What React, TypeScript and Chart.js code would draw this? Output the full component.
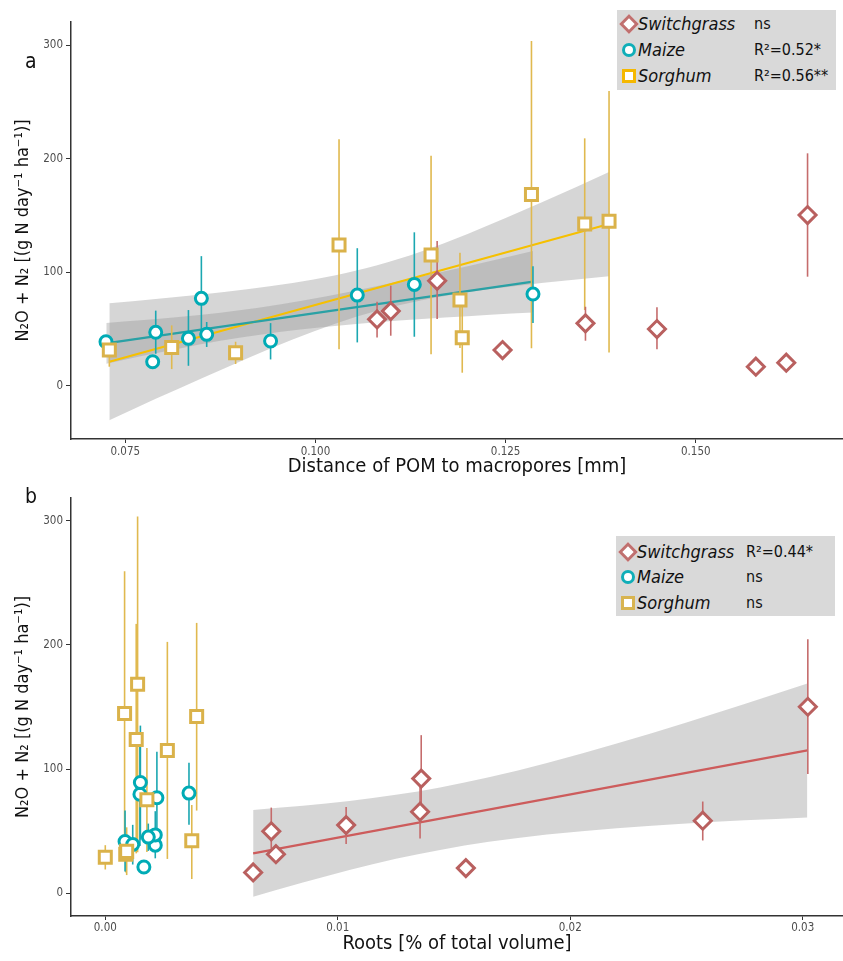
import React, { useEffect, useRef } from "react";
import { Chart, registerables } from "chart.js";
Chart.register(...registerables);

const FONT = "'DejaVu Sans Condensed', 'DejaVu Sans', sans-serif";

// ---------- data (means and error bar limits, N2O + N2 flux) ----------
const switchgrassN = [58.3, 65.6, 92.3, 31.3, 54.8, 49.8, 16.6, 20.1, 150.2];
const switchgrassLo = [42.4, 43.9, 58.6, null, 39.5, 31.9, null, null, 95.9];
const switchgrassHi = [73.8, 88.0, 127.3, null, 69.4, 68.9, null, null, 204.6];
const switchgrassDist = [0.1081, 0.1099, 0.116, 0.1246, 0.1355, 0.1449, 0.1579, 0.1619, 0.1647];
const switchgrassRoots = [0.0257, 0.01354, 0.01359, 0.00734, 0.01036, 0.00714, 0.00636, 0.01551, 0.03022];

const maizeN = [38.6, 46.9, 21.0, 41.6, 76.8, 45.1, 39.2, 79.7, 89.1, 80.6];
const maizeLo = [null, 28, null, 17.4, 46, 34, 23, 38, 43, 55];
const maizeHi = [null, 66, null, 66.5, 114, 56, 55, 121, 135, 105];
const maizeDist = [0.07246, 0.079, 0.0786, 0.0833, 0.085, 0.0857, 0.0941, 0.1055, 0.113, 0.1286];
const maizeRoots = [0.00215, 0.00215, 0.00166, 0.00085, 0.00222, 0.00185, 0.00118, 0.00149, 0.00151, 0.0036];

const sorghumN = [31.3, 33.6, 28.9, 123.8, 115.0, 75.3, 42.1, 168.4, 142.3, 144.7];
const sorghumLo = [16.6, 14.5, 19, 32, 27.5, 33, 11.3, 32.8, 66.5, 29.2];
const sorghumHi = [37, 53, 38.6, 217, 202.5, 117, 71, 303.5, 217.8, 259.5];
const sorghumDist = [0.0729, 0.0811, 0.0895, 0.1031, 0.1152, 0.119, 0.1193, 0.1284, 0.1354, 0.1386];
const sorghumRoots = [0.00088, 0.00092, 0.0, 0.00133, 0.00267, 0.00179, 0.00372, 0.00139, 0.00393, 0.00083];

// fitted lines (end points) and confidence bands
const maizeFitX = [0.07246, 0.1286];
const maizeFitY = [37.2, 91.5];
const maizeBandX = [0.0725, 0.077, 0.082, 0.0875, 0.0925, 0.098, 0.105, 0.111, 0.117, 0.123, 0.1286];
const maizeBandHi = [55.2, 57.5, 60.3, 64.2, 68.6, 74.4, 83.3, 91.8, 100.7, 109.8, 118.6];
const maizeBandLo = [19.2, 25.7, 32.5, 39.4, 44.6, 49.4, 54.1, 57.2, 59.9, 62.4, 64.4];

const sorghumFitX = [0.0729, 0.1386];
const sorghumFitY = [21.0, 142.3];
const sorghumBandX = [0.0729, 0.079, 0.085, 0.091, 0.097, 0.1025, 0.108, 0.114, 0.12, 0.125, 0.13, 0.1386];
const sorghumBandHi = [72.5, 76.3, 80.3, 84.9, 90.4, 96.9, 105.7, 118.4, 133.6, 147.6, 162.1, 188.2];
const sorghumBandLo = [-30.5, -11.7, 6.3, 23.9, 40.6, 54.3, 65.7, 75.2, 82.2, 86.6, 90.5, 96.4];

const switchgrassFitX = [0.00636, 0.0302];
const switchgrassFitY = [32.0, 115.0];
const switchgrassBandX = [0.00636, 0.0085, 0.0105, 0.0125, 0.0144, 0.0165, 0.019, 0.022, 0.025, 0.0275, 0.0302];
const switchgrassBandHi = [67, 70.3, 74.2, 79.2, 85.2, 93.3, 104.8, 120.5, 137.5, 152.4, 169];
const switchgrassBandLo = [-3, 8.5, 18.6, 27.6, 34.8, 41.3, 47.2, 52.3, 56.1, 58.6, 61];

// axes
const yTicks = [0, 100, 200, 300];
const distTicks = [0.075, 0.1, 0.125, 0.15];
const distTickLabels = ["0.075", "0.100", "0.125", "0.150"];
const rootTicks = [0, 0.01, 0.02, 0.03];
const rootTickLabels = ["0.00", "0.01", "0.02", "0.03"];

const legendNames = ["Switchgrass", "Maize", "Sorghum"];
const statsA = ["ns", "R\u00B2=0.52*", "R\u00B2=0.56**"];
const statsB = ["R\u00B2=0.44*", "ns", "ns"];

const Y_TITLE = "N\u2082O + N\u2082 [(g N day\u207B\u00B9 ha\u207B\u00B9)]";

// ---------- colours ----------
const SG = { pt: "#b9605f", err: "#c56c6c", line: "#cd5c5c" };
const MZ = { pt: "#00abb5", err: "#1ba7b1", line: "#2aa1a5" };
const SO = { pt: "#dab24a", err: "#e0b94f", line: "#f6c000" };
const BAND = "rgba(153,153,153,0.4)";

const zip = (xs: number[], ys: number[]) => xs.map((x, i) => ({ x, y: ys[i] }));

const errorBars = {
  id: "errorBars",
  beforeDatasetDraw(chart: any, args: any) {
    const ds0 = chart.data.datasets[args.index];
    if (!ds0.drawAllErrors) return;
    const { ctx, scales } = chart;
    const x = scales.x, y = scales.y;
    ctx.save();
    ctx.lineWidth = 1.6;
    chart.data.datasets.forEach((ds: any) => {
      if (!ds.errLo) return;
      ctx.strokeStyle = ds.errColor;
      ds.data.forEach((p: any, i: number) => {
        const lo = ds.errLo[i], hi = ds.errHi[i];
        if (lo == null || hi == null) return;
        const px = x.getPixelForValue(p.x);
        ctx.beginPath();
        ctx.moveTo(px, y.getPixelForValue(lo));
        ctx.lineTo(px, y.getPixelForValue(hi));
        ctx.stroke();
      });
    });
    ctx.restore();
  },
};

type PanelProps = {
  top: number; height: number;
  xMin: number; xMax: number; yMin: number; yMax: number;
  xTicks: number[]; xTickLabels: string[]; xTitle: string;
  padTop: number; xAxisH: number; xTitlePad: number; tickPadX: number;
  xs: { sg: number[]; mz: number[]; so: number[] };
  fits: any[]; bands: any[];
};

function Panel(p: PanelProps) {
  const ref = useRef<HTMLCanvasElement>(null);
  useEffect(() => {
    if (!ref.current) return;
    const pointDs = (label: string, xs: number[], ys: number[], lo: any[], hi: any[], c: any, style: string, r: number, all = false) => ({
      label, data: zip(xs, ys), errLo: lo, errHi: hi, errColor: c.err, drawAllErrors: all,
      pointStyle: style, pointRadius: r, pointBorderWidth: 3, pointBorderColor: c.pt,
      pointBackgroundColor: "#ffffff", showLine: false, borderColor: c.pt, backgroundColor: "#fff",
    });
    const datasets: any[] = [
      pointDs("Sorghum", p.xs.so, sorghumN, sorghumLo, sorghumHi, SO, "rect", 8.5),
      pointDs("Maize", p.xs.mz, maizeN, maizeLo, maizeHi, MZ, "circle", 6),
      pointDs("Switchgrass", p.xs.sg, switchgrassN, switchgrassLo, switchgrassHi, SG, "rectRot", 8.5, true),
    ];
    p.fits.forEach((f) => datasets.push({
      label: f.label, data: zip(f.x, f.y), showLine: true, borderColor: f.color, borderWidth: 2.2,
      pointRadius: 0, fill: false,
    }));
    p.bands.forEach((b) => {
      datasets.push({
        label: b.label + " hi", data: zip(b.x, b.hi), showLine: true, borderWidth: 0, borderColor: "rgba(0,0,0,0)",
        backgroundColor: BAND, pointRadius: 0, fill: "+1", cubicInterpolationMode: "monotone",
      });
      datasets.push({
        label: b.label + " lo", data: zip(b.x, b.lo), showLine: true, borderWidth: 0, borderColor: "rgba(0,0,0,0)",
        pointRadius: 0, fill: false, cubicInterpolationMode: "monotone",
      });
    });
    const chart = new Chart(ref.current, {
      type: "scatter",
      data: { datasets },
      plugins: [errorBars],
      options: {
        animation: false,
        responsive: false,
        events: [],
        layout: { autoPadding: false, padding: { top: p.padTop, left: 0, right: 0, bottom: 0 } },
        plugins: { legend: { display: false }, tooltip: { enabled: false } },
        scales: {
          x: {
            type: "linear", min: p.xMin, max: p.xMax,
            afterFit: (s: any) => { s.height = p.xAxisH; s.paddingLeft = 0; s.paddingRight = 0; s.paddingTop = 0; s.paddingBottom = 0; },
            afterBuildTicks: (s: any) => { s.ticks = p.xTicks.map((v) => ({ value: v })); },
            border: { display: true, color: "#333333", width: 1.5 },
            grid: { display: true, drawOnChartArea: false, drawTicks: true, tickLength: 4, tickColor: "#333333", tickWidth: 1 },
            ticks: {
              autoSkip: false, maxRotation: 0, padding: p.tickPadX, color: "#4d4d4d",
              font: { family: FONT, size: 11.5 },
              callback: (_v: any, i: number) => p.xTickLabels[i],
            },
            title: { display: true, text: p.xTitle, color: "#111", font: { family: FONT, size: 20 }, padding: { top: 0, bottom: p.xTitlePad } },
          },
          y: {
            type: "linear", min: p.yMin, max: p.yMax,
            afterFit: (s: any) => { s.width = 71; s.paddingLeft = 0; s.paddingRight = 0; s.paddingTop = 0; s.paddingBottom = 0; },
            afterBuildTicks: (s: any) => { s.ticks = yTicks.map((v) => ({ value: v })); },
            border: { display: true, color: "#333333", width: 1.5 },
            grid: { display: true, drawOnChartArea: false, drawTicks: true, tickLength: 5, tickColor: "#333333", tickWidth: 1 },
            ticks: { autoSkip: false, padding: 3, color: "#4d4d4d", font: { family: FONT, size: 11.5 }, callback: (v: any) => String(v) },
            title: { display: true, text: Y_TITLE, color: "#111", font: { family: FONT, size: 18 }, padding: { top: 13, bottom: 0 } },
          },
        },
      } as any,
    });
    return () => chart.destroy();
  }, []);
  return (
    <canvas ref={ref} width={843} height={p.height}
      style={{ position: "absolute", left: 0, top: p.top, width: 843, height: p.height, display: "block" }} />
  );
}

function Marker({ kind, color }: { kind: number; color: string }) {
  if (kind === 0)
    return <div style={{ position: "absolute", left: -7, top: -7, width: 14, height: 14, boxSizing: "border-box", border: `3px solid ${color}`, background: "#fff", transform: "rotate(45deg)" }} />;
  if (kind === 1)
    return <div style={{ position: "absolute", left: -7, top: -7, width: 14, height: 14, boxSizing: "border-box", border: `3.5px solid ${color}`, borderRadius: "50%", background: "#fff" }} />;
  return <div style={{ position: "absolute", left: -7, top: -7, width: 14, height: 14, boxSizing: "border-box", border: `3.5px solid ${color}`, background: "#fff" }} />;
}

function Legend({ left, top, rows, stats, statX, colors }: { left: number; top: number; rows: number[]; stats: string[]; statX: number; colors: string[] }) {
  return (
    <div style={{ position: "absolute", left, top, width: 219, height: 80, background: "#d9d9d9", fontFamily: FONT, color: "#111" }}>
      {legendNames.map((n, i) => (
        <React.Fragment key={n}>
          <div style={{ position: "absolute", left: 12, top: rows[i] }}><Marker kind={i} color={colors[i]} /></div>
          <div style={{ position: "absolute", left: 21, top: rows[i] - 12, fontSize: 18, lineHeight: "24px", fontStyle: "italic", whiteSpace: "nowrap" }}>{n}</div>
          <div style={{ position: "absolute", left: statX, top: rows[i] - 12, fontSize: 16, lineHeight: "24px", whiteSpace: "nowrap" }}>{stats[i]}</div>
        </React.Fragment>
      ))}
    </div>
  );
}

export default function App() {
  return (
    <div style={{ position: "absolute", left: 0, top: 0, width: 843, height: 961, background: "#fff", overflow: "hidden" }}>
      <Panel
        top={0} height={480}
        xMin={0.06786} xMax={0.16936} yMin={-47.1} yMax={320.3}
        xTicks={distTicks} xTickLabels={distTickLabels} xTitle="Distance of POM to macropores [mm]"
        padTop={22} xAxisH={41} xTitlePad={1} tickPadX={2}
        xs={{ sg: switchgrassDist, mz: maizeDist, so: sorghumDist }}
        fits={[
          { label: "Maize fit", x: maizeFitX, y: maizeFitY, color: MZ.line },
          { label: "Sorghum fit", x: sorghumFitX, y: sorghumFitY, color: SO.line },
        ]}
        bands={[
          { label: "Maize band", x: maizeBandX, hi: maizeBandHi, lo: maizeBandLo },
          { label: "Sorghum band", x: sorghumBandX, hi: sorghumBandHi, lo: sorghumBandLo },
        ]}
      />
      <Panel
        top={480} height={481}
        xMin={-0.001475} xMax={0.031733} yMin={-18.5} yMax={318.5}
        xTicks={rootTicks} xTickLabels={rootTickLabels} xTitle="Roots [% of total volume]"
        padTop={18} xAxisH={45} xTitlePad={5} tickPadX={1}
        xs={{ sg: switchgrassRoots, mz: maizeRoots, so: sorghumRoots }}
        fits={[{ label: "Switchgrass fit", x: switchgrassFitX, y: switchgrassFitY, color: SG.line }]}
        bands={[{ label: "Switchgrass band", x: switchgrassBandX, hi: switchgrassBandHi, lo: switchgrassBandLo }]}
      />
      <div style={{ position: "absolute", left: 25, top: 49, fontFamily: FONT, fontSize: 21, color: "#111" }}>a</div>
      <div style={{ position: "absolute", left: 25, top: 484, fontFamily: FONT, fontSize: 21, color: "#111" }}>b</div>
      <Legend left={617} top={10} rows={[14, 40, 66]} stats={statsA} statX={137} colors={["#c0706f", "#10aeb8", "#f5b800"]} />
      <Legend left={616} top={536} rows={[16, 41, 67]} stats={statsB} statX={130} colors={["#c0706f", "#10aeb8", "#d8b450"]} />
    </div>
  );
}
